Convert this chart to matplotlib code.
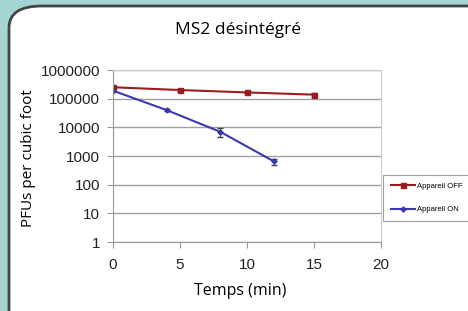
import matplotlib.pyplot as plt
from matplotlib.patches import FancyBboxPatch

t_off = [0, 5, 10, 15]
pfu_off = [250000, 200000, 165000, 138000]
err_off = [15000, 12000, 10000, 25000]

t_on = [0, 4, 8, 12]
pfu_on = [190000, 40000, 7000, 650]
err_on = [10000, 3000, 2500, 150]

yticks = [1, 10, 100, 1000, 10000, 100000, 1000000]

plt.rcParams['font.family'] = 'Liberation Sans'
plt.rcParams['xtick.labelsize'] = 11
plt.rcParams['ytick.labelsize'] = 11

fig = plt.figure(figsize=(4.68, 3.11), dpi=100)
fig.patch.set_facecolor('#a3d5d2')

box = FancyBboxPatch((9 / 468, -0.2), 1.2, 1.2 - 6 / 311,
                     boxstyle="round,pad=0,rounding_size=0.07",
                     transform=fig.transFigure, facecolor='white',
                     edgecolor='#444444', linewidth=2, zorder=-5)
fig.patches.append(box)

ax = fig.add_axes([113 / 468, 1 - 242 / 311, 268 / 468, 172 / 311])
ax.set_zorder(2)
ax.set_facecolor('white')

# error bars drawn separately so the legend shows plain line + marker
ax.errorbar(t_off, pfu_off, yerr=err_off, fmt='none', ecolor='#444444',
            elinewidth=0.8, capsize=2)
ax.errorbar(t_on, pfu_on, yerr=err_on, fmt='none', ecolor='#444444',
            elinewidth=0.8, capsize=2)
ax.plot(t_off, pfu_off, color='#9b1c1c', marker='s', markersize=3.6, lw=1.5,
        label='Appareil OFF')
ax.plot(t_on, pfu_on, color='#3a3ab0', marker='D', markersize=2.6, lw=1.5,
        label='Appareil ON')

ax.set_yscale('log')
ax.set_ylim(1, 1000000)
ax.set_xlim(0, 20)
ax.set_yticks(yticks)
ax.set_yticklabels([str(v) for v in yticks])
ax.minorticks_off()
ax.set_xticks([0, 5, 10, 15, 20])
ax.grid(axis='y', color='#a0a0a0', lw=1)
ax.set_axisbelow(True)

for s in ['top', 'right']:
    ax.spines[s].set_color('#cccccc')
for s in ['left', 'bottom']:
    ax.spines[s].set_color('#999999')
ax.tick_params(colors='#999999', length=4.3, labelcolor='#222222')
ax.tick_params(axis='x', pad=7)
ax.tick_params(axis='y', pad=5)

fig.text(28 / 468, 1 - 158 / 311, 'PFUs per cubic foot', fontsize=11,
         family='Open Sans', rotation=90, ha='center', va='center')
fig.text(240 / 468, 1 - 291 / 311, 'Temps (min)', fontsize=11.5,
         family='Open Sans', ha='center', va='center')
fig.text(238 / 468, 1 - 30 / 311, 'MS2 désintégré', fontsize=12.5,
         family='Open Sans', ha='center', va='center')

leg = ax.legend(loc='upper left', bbox_to_anchor=(383 / 468, 1 - 175 / 311),
                bbox_transform=fig.transFigure, fontsize=5.5,
                frameon=True, fancybox=False, edgecolor='#888888',
                handlelength=3.2, handletextpad=0.3, borderpad=1.0,
                labelspacing=2.1, borderaxespad=0)
leg.get_frame().set_linewidth(0.8)

fig.savefig('out.png', dpi=100, facecolor=fig.get_facecolor())
